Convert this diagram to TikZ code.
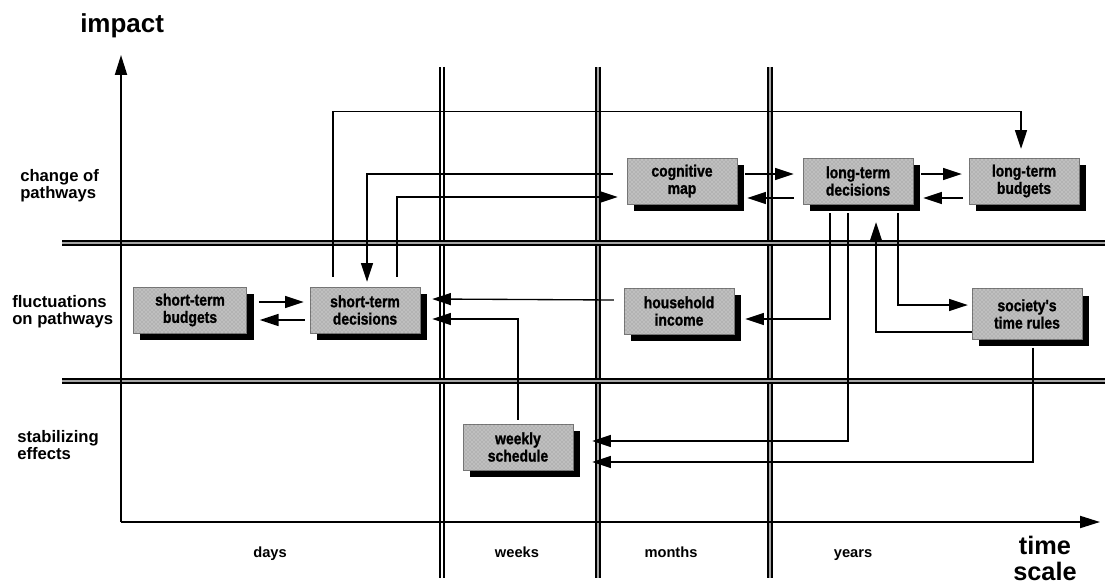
\documentclass[tikz,border=0pt]{standalone}
\usepackage{fontspec}
\setmainfont{Liberation Sans}
\newfontfamily\boxfont{Liberation Sans}[FakeStretch=0.85,FakeBold=1.2]
\usetikzlibrary{arrows.meta,calc,shadows,patterns}
\begin{document}
\begin{tikzpicture}[x=0.75pt,y=-0.75pt,
  box/.style={rectangle, minimum width=82.5pt, minimum height=34.5pt, inner sep=0pt,
    drop shadow={shadow xshift=5.25pt, shadow yshift=-5.25pt, opacity=1, fill=black},
    fill=black!25, postaction={pattern=crosshatch dots, pattern color=black!45},
    draw=black!55, line width=0.3pt, align=center,
    font=\boxfont\bfseries\fontsize{12.3}{13}\selectfont},
  conn/.style={line width=1pt, -{Triangle[length=14pt,width=9pt]}},
  axis/.style={line width=1.5pt, -{Triangle[length=15pt,width=9pt]}},
  side/.style={font=\bfseries\fontsize{12.5}{12.75}\selectfont, align=left, anchor=west, inner sep=0pt},
  scalelbl/.style={font=\bfseries\fontsize{11}{12}\selectfont, anchor=base, inner sep=0pt},
  dblout/.style={line width=3.8pt, black},
  dblin/.style={line width=1.6pt, black!35},
  dblinw/.style={line width=1.6pt, white}
]
\useasboundingbox (0,0) rectangle (1105,588);

% double grid lines
\foreach \xx/\st in {442/dblinw,598/dblin,770/dblin}{
  \draw[dblout] (\xx,67) -- (\xx,578);
  \draw[\st] (\xx,67) -- (\xx,578);
}
\foreach \yy in {243,381}{
  \draw[dblout] (62,\yy) -- (1105,\yy);
  \draw[dblin] (62,\yy) -- (1105,\yy);
}

% axes
\coordinate (O) at (121,522);
\coordinate (ytip) at (121,55);
\coordinate (xtip) at (1100,522);
\draw[axis] (O) -- (ytip);
\draw[axis] (O) -- (xtip);

% labels
\node[font=\bfseries\fontsize{19.5}{19.5}\selectfont, anchor=base west, inner sep=0pt] (impact) at (80,33) {impact};
\node[side] (lchange) at (20,186) {change of\\pathways};
\node[side] (lfluct) at (12,312) {fluctuations\\on pathways};
\node[side] (lstab) at (17,445) {stabilizing\\effects};
\node[scalelbl] (ldays) at (270,557) {days};
\node[scalelbl] (lweeks) at (517,557) {weeks};
\node[scalelbl] (lmonths) at (671,557) {months};
\node[scalelbl] (lyears) at (853,557) {years};
\node[font=\bfseries\fontsize{19}{19.5}\selectfont, align=center, inner sep=0pt] (ltime) at (1045,558) {time\\scale};

% boxes
\node[box] (cog) at (682,181) {cognitive\\map};
\node[box] (ltd) at (858,181) {long-term\\decisions};
\node[box] (ltb) at (1024,181) {long-term\\budgets};
\node[box, minimum width=85pt] (stb) at (190,310) {short-term\\budgets};
\node[box] (std) at (365,310) {short-term\\decisions};
\node[box] (hhi) at (679,311) {household\\income};
\node[box, minimum height=38pt] (str) at (1027,314) {society's\\time rules};
\node[box] (ws) at (518,447) {weekly\\schedule};

% connectors
\draw[conn] ($(std.north)+(-32,-10)$) |- ($(ltb.north)+(-3,-46)$) -- ($(ltb.north)+(-3,-9)$);
\draw[conn] ($(cog.west)+(-14,-7)$) -| ($(std.north)+(2,-5)$);
\draw[conn] ($(std.north)+(32,-10)$) |- ($(cog.west)+(-9,16)$);
\draw[conn] ($(cog.east)+(8,-7)$) -- ($(ltd.west)+(-9,-7)$);
\draw[conn] ($(ltd.west)+(-9,17)$) -- ($(cog.east)+(10,17)$);
\draw[conn] ($(ltd.east)+(8,-7)$) -- ($(ltb.west)+(-7,-7)$);
\draw[conn] ($(ltb.west)+(-6,17)$) -- ($(ltd.east)+(10,17)$);
\draw[conn] ($(stb.east)+(12,-8)$) -- ($(std.west)+(-6,-8)$);
\draw[conn] ($(std.west)+(-5,10)$) -- ($(stb.east)+(13,10)$);
\draw[conn] ($(hhi.west)+(-10,-11)$) -- ($(std.east)+(12,-11)$);
\draw[conn] ($(ws.north)+(0,-4)$) |- ($(std.east)+(12,9)$);
\draw[conn] ($(ltd.south)+(-28,9)$) |- ($(hhi.east)+(11,8)$);
\draw[conn] ($(ltd.south)+(-10,9)$) |- ($(ws.east)+(19,-6)$);
\draw[conn] ($(str.south)+(6,8)$) |- ($(ws.east)+(19,15)$);
\draw[conn] ($(ltd.south)+(40,9)$) |- ($(str.west)+(-4,-9)$);
\draw[conn] ($(str.west)+(0,18)$) -| ($(ltd.south)+(18,18)$);
\end{tikzpicture}
\end{document}
